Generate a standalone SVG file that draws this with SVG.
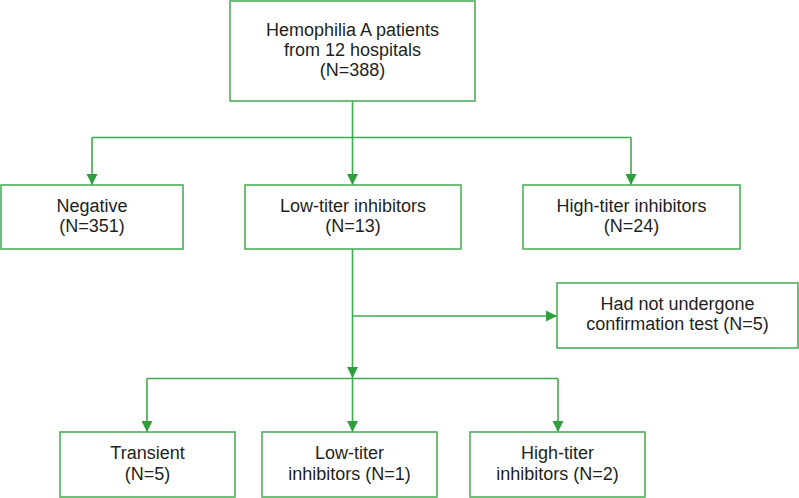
<svg xmlns="http://www.w3.org/2000/svg" width="799" height="498" viewBox="0 0 799 498">
<style>
.box{fill:#fff;stroke:#4cb05a;stroke-width:1.6}
.ln{fill:none;stroke:#3fa94c;stroke-width:1.6}
text{font-family:"Liberation Sans",Arial,sans-serif;font-size:18px;fill:#231f20;text-anchor:middle}
</style>
<defs>
<marker id="ah" markerUnits="userSpaceOnUse" markerWidth="12" markerHeight="12" viewBox="0 0 12 12" refX="11" refY="6" orient="auto">
<path d="M0,0.5 L11,6 L0,11.5 Z" fill="#2f9e3d"/>
</marker>
</defs>
<rect width="799" height="498" fill="#fff"/>
<g id="connectors">
<path class="ln" d="M352.5,101 V137.5"/>
<path class="ln" d="M92,137.5 H631"/>
<path class="ln" d="M92,137.5 V185" marker-end="url(#ah)"/>
<path class="ln" d="M352.5,137.5 V185" marker-end="url(#ah)"/>
<path class="ln" d="M631,137.5 V185" marker-end="url(#ah)"/>
<path class="ln" d="M352.5,249 V378" marker-end="url(#ah)"/>
<path class="ln" d="M352.5,316 H557" marker-end="url(#ah)"/>
<path class="ln" d="M147,378.5 H558"/>
<path class="ln" d="M147,378.5 V432" marker-end="url(#ah)"/>
<path class="ln" d="M352.5,378.5 V432" marker-end="url(#ah)"/>
<path class="ln" d="M558,378.5 V432" marker-end="url(#ah)"/>
</g>
<g id="root">
<rect class="box" x="230" y="1" width="245" height="100"/>
<text x="352.5" y="36">Hemophilia A patients</text>
<text x="352.5" y="56">from 12 hospitals</text>
<text x="352.5" y="75.5">(N=388)</text>
</g>
<g id="negative">
<rect class="box" x="1" y="185" width="182" height="64"/>
<text x="92" y="211.5">Negative</text>
<text x="92" y="231.5">(N=351)</text>
</g>
<g id="low">
<rect class="box" x="245" y="185" width="216" height="64"/>
<text x="353" y="211.5">Low-titer inhibitors</text>
<text x="353" y="231.5">(N=13)</text>
</g>
<g id="high">
<rect class="box" x="523" y="185" width="217" height="64"/>
<text x="631.5" y="211.5">High-titer inhibitors</text>
<text x="631.5" y="231.5">(N=24)</text>
</g>
<g id="notconfirmed">
<rect class="box" x="557" y="283" width="241" height="65"/>
<text x="677.5" y="310">Had not undergone</text>
<text x="677.5" y="330">confirmation test (N=5)</text>
</g>
<g id="transient">
<rect class="box" x="60" y="432" width="175" height="65"/>
<text x="147.5" y="459">Transient</text>
<text x="147.5" y="479.5">(N=5)</text>
</g>
<g id="low2">
<rect class="box" x="262" y="432" width="175" height="65"/>
<text x="349.5" y="459">Low-titer</text>
<text x="349.5" y="479.5">inhibitors (N=1)</text>
</g>
<g id="high2">
<rect class="box" x="470" y="432" width="175" height="65"/>
<text x="557.5" y="459">High-titer</text>
<text x="557.5" y="479.5">inhibitors (N=2)</text>
</g>
</svg>
